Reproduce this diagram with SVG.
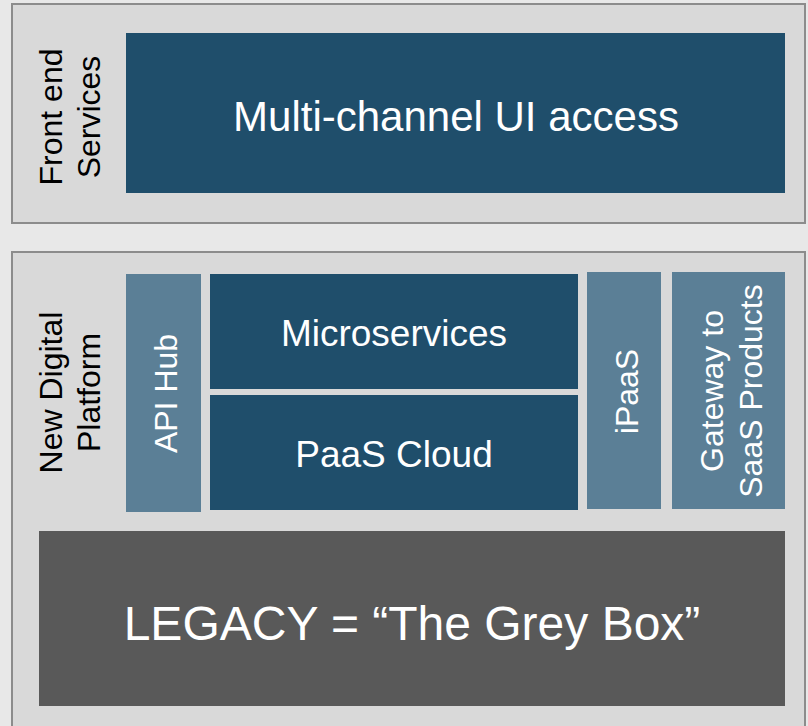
<svg xmlns="http://www.w3.org/2000/svg" width="808" height="726" viewBox="0 0 808 726">
  <style>
    .panel { fill: #d9d9d9; stroke: #8c8c8c; stroke-width: 2; }
    .dark { fill: #1f4e6b; }
    .light { fill: #5b7f96; }
    .grey { fill: #595959; }
    text { font-family: "Liberation Sans", Arial, sans-serif; text-anchor: middle; }
    .w { fill: #ffffff; }
    .k { fill: #000000; }
  </style>
  <rect x="0" y="0" width="808" height="726" fill="#e8e8e8"/>
  <g id="frontend-panel">
    <rect class="panel" x="12" y="4" width="793" height="219"/>
    <text class="k" font-size="32" transform="translate(62,117) rotate(-90)">Front end</text>
    <text class="k" font-size="32" transform="translate(100,117) rotate(-90)">Services</text>
  </g>
  <g id="multichannel">
    <rect class="dark" x="126" y="33" width="659" height="160"/>
    <text class="w" font-size="42" x="456" y="131">Multi-channel UI access</text>
  </g>
  <g id="platform-panel">
    <rect class="panel" x="12" y="252" width="793" height="480"/>
    <text class="k" font-size="32" transform="translate(62,392.5) rotate(-90)">New Digital</text>
    <text class="k" font-size="32" transform="translate(100,392.5) rotate(-90)">Platform</text>
  </g>
  <g id="api-hub">
    <rect class="light" x="126" y="274" width="75" height="238"/>
    <text class="w" font-size="32" transform="translate(177,393.5) rotate(-90)">API Hub</text>
  </g>
  <g id="microservices">
    <rect class="dark" x="210" y="274" width="368" height="115"/>
    <text class="w" font-size="37" x="394" y="346">Microservices</text>
  </g>
  <g id="paas-cloud">
    <rect class="dark" x="210" y="395" width="368" height="115"/>
    <text class="w" font-size="37" x="394" y="467">PaaS Cloud</text>
  </g>
  <g id="ipaas">
    <rect class="light" x="587" y="272" width="74" height="237"/>
    <text class="w" font-size="32" transform="translate(638,391.5) rotate(-90)">iPaaS</text>
  </g>
  <g id="gateway">
    <rect class="light" x="672" y="272" width="113" height="237"/>
    <text class="w" font-size="32" transform="translate(723,391) rotate(-90)">Gateway to</text>
    <text class="w" font-size="32" transform="translate(762,391) rotate(-90)">SaaS Products</text>
  </g>
  <g id="legacy">
    <rect class="grey" x="39" y="531" width="746" height="175"/>
    <text class="w" font-size="48" x="412" y="640">LEGACY = “The Grey Box”</text>
  </g>
  <g id="connectors"></g>
</svg>
